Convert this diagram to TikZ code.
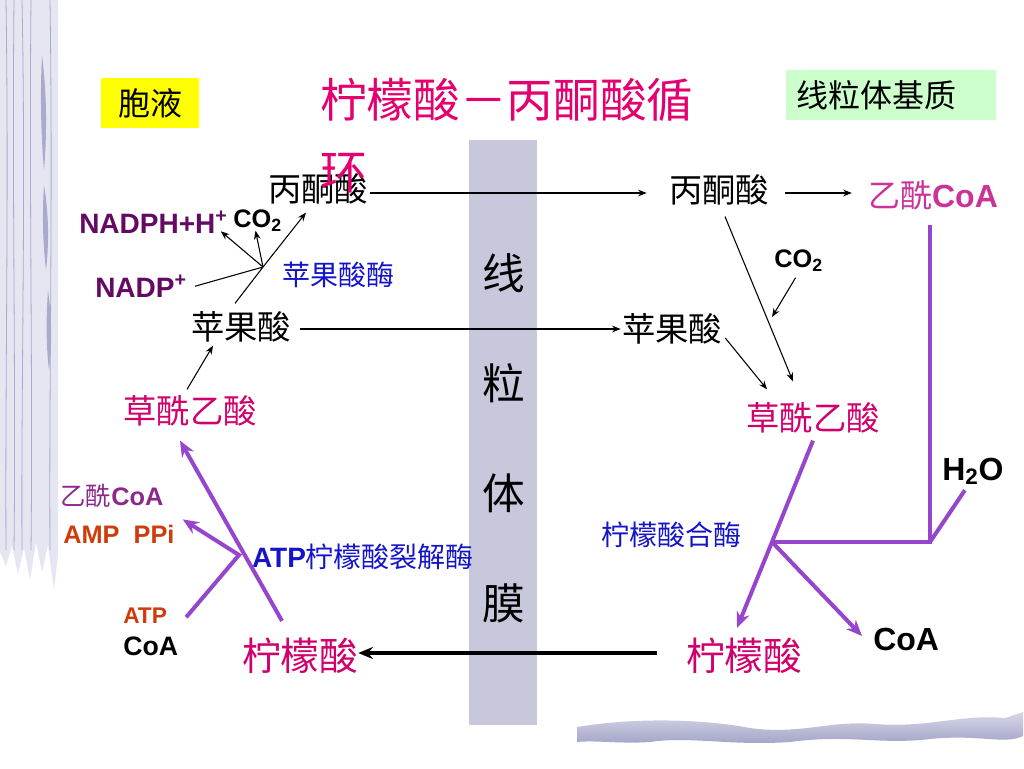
\documentclass[tikz,border=0pt]{standalone}
\usepackage{fontspec}
\setmainfont{Liberation Sans}
\newfontfamily\cjk{Noto Sans CJK SC}
\usetikzlibrary{arrows.meta,calc}
\definecolor{titlepink}{RGB}{228,0,110}
\definecolor{pinkc}{RGB}{208,0,108}
\definecolor{acoa}{RGB}{204,51,153}
\definecolor{acoaL}{RGB}{140,40,140}
\definecolor{purl}{RGB}{150,70,205}
\definecolor{bluet}{RGB}{20,20,200}
\definecolor{nadp}{RGB}{100,10,100}
\definecolor{orng}{RGB}{205,60,10}
\definecolor{memb}{RGB}{200,200,220}
\definecolor{yel}{RGB}{255,255,0}
\definecolor{grn}{RGB}{204,255,204}
\definecolor{strip}{RGB}{230,230,242}
\definecolor{stripd}{RGB}{170,170,205}
\definecolor{bandtop}{RGB}{215,215,232}
\definecolor{bandbot}{RGB}{160,160,198}
\newcommand\myfs[2]{\fontsize{#1pt}{#2pt}\selectfont}
\begin{document}
\begin{tikzpicture}[x=0.75pt,y=-0.75pt,
  cj/.style={inner sep=0pt, font=\cjk\myfs{25}{30}},
  lb/.style={inner sep=0pt, anchor=base west},
  tarrow/.style={draw=black, line width=0.8pt, -{Stealth[length=6.5pt,width=5pt]}},
  purp/.style={draw=purl, line width=3pt, line join=miter},
  parrow/.style={purp, -{Stealth[length=12pt,width=10pt]}},
  karrow/.style={draw=black, line width=2.5pt, -{Stealth[length=11pt,width=9pt]}},
]
\useasboundingbox (0,0) rectangle (1024,768);
\fill[white] (0,0) rectangle (1024,768);
% left decorative strip
\fill[strip] (0,0) -- (58,0) -- (58,555) -- (54,590) -- (48,545) -- (42,572) -- (36,542) -- (30,580) -- (24,548) -- (18,574) -- (12,546) -- (6,566) -- (0,552) -- cycle;
\foreach \xa/\xb/\xc in {6/9/5, 14/12/16, 22/26/21, 31/29/33, 50/53/49}{
  \draw[stripd, line width=0.6pt] (\xa,0) .. controls (\xb,200) and (\xc,380) .. (\xa,550);
}
\fill[stripd] (42,55) .. controls (47,95) and (47,135) .. (44,170) .. controls (41,135) and (40,95) .. (42,55);
\fill[stripd] (44,185) .. controls (49,215) and (49,245) .. (46,270) .. controls (43,245) and (42,215) .. (44,185);
\fill[stripd] (48,290) .. controls (52,320) and (52,345) .. (49,370) .. controls (46,345) and (46,320) .. (48,290);
% bottom decorative band
\shade[top color=bandtop, bottom color=bandbot] (577,727) .. controls (650,715) and (720,722) .. (750,728) .. controls (800,735) and (830,720) .. (875,724) .. controls (930,728) and (960,714) .. (1005,718) -- (1023,712) -- (1023,736) .. controls (1005,745) and (980,734) .. (930,739) .. controls (880,745) and (850,734) .. (790,742) .. controls (730,746) and (690,736) .. (650,742) .. controls (620,744) and (595,740) .. (577,742) -- cycle;
% membrane
\fill[memb] (469,140) rectangle (537,725);
\node[cj, font=\cjk\myfs{32}{82.5}, align=center] (membt) at (504,438) {线\\粒\\体\\膜};
% boxes
\node[cj, fill=yel, minimum width=73.5pt, minimum height=37.5pt, font=\cjk\myfs{24}{28}] (cyto) at (150,103) {胞液};
\node[cj, fill=grn, minimum height=37.5pt, text width=142pt, align=left, inner xsep=8pt, font=\cjk\myfs{24}{28}] (matrix) at (891,95) {线粒体基质};
% metabolites
\node[cj] (pyrL) at (318,189) {丙酮酸};
\node[cj] (pyrR) at (719,190) {丙酮酸};
\node[cj, text=pinkc] (oaaL) at (190,411) {草酰乙酸};
\node[cj, text=pinkc] (oaaR) at (813,418) {草酰乙酸};
\node[cj] (malL) at (241,327) {苹果酸};
\node[cj] (malR) at (672,329) {苹果酸};
\node[cj, text=pinkc, font=\cjk\myfs{29}{34}] (citL) at (300,656) {柠檬酸};
\node[cj, text=pinkc, font=\cjk\myfs{29}{34}] (citR) at (744,656) {柠檬酸};
\node[cj, text=bluet, font=\cjk\myfs{21}{25}] (me) at (338,275) {苹果酸酶};
\node[cj, text=bluet, font=\cjk\myfs{21}{25}] (cs) at (671,535) {柠檬酸合酶};
\node[inner sep=0pt, text=bluet, font=\myfs{21}{25}] (acl) at (363,557) {\textbf{ATP}{\cjk 柠檬酸裂解酶}};
\node[inner sep=0pt, text=acoa, font=\myfs{24}{28}] (acoaR) at (933,195) {{\cjk 乙酰}\textbf{CoA}};
\node[inner sep=0pt, text=acoaL, font=\myfs{19}{23}] (acoaLn) at (112,496) {{\cjk 乙酰}\textbf{CoA}};
% small latin labels
\node[lb, font=\bfseries\myfs{21}{25}, text=nadp] (nadph) at (79,233) {NADPH+H\textsuperscript{+}};
\node[lb, font=\bfseries\myfs{19}{23}] (co2L) at (233,227) {CO\textsubscript{2}};
\node[lb, font=\bfseries\myfs{21}{25}, text=nadp] (nadpp) at (95,297) {NADP\textsuperscript{+}};
\node[lb, font=\bfseries\myfs{19}{23}] (co2R) at (774,267) {CO\textsubscript{2}};
\node[lb, font=\bfseries\myfs{24}{28}] (h2o) at (942,480) {H\textsubscript{2}O};
\node[lb, font=\bfseries\myfs{24}{28}] (coaR) at (873,650) {CoA};
\node[lb, font=\bfseries\myfs{19}{23}, text=orng] (amp) at (63,543) {AMP\ \ PPi};
\node[lb, font=\bfseries\myfs{17}{21}, text=orng] (atpL) at (123,623) {ATP};
\node[lb, font=\bfseries\myfs{20}{24}] (coaL) at (123,655) {CoA};
% junctions
\coordinate (j1) at (263,267);
\coordinate (j2) at (772,542);
\coordinate (j3) at (930,542);
\coordinate (j4) at (239,555);
\coordinate (co2tip) at (772,317);
% thin black connectors
\draw[tarrow] ($(pyrL.east)+(2,4)$) -- ($(pyrR.west)+(-22,3)$);
\draw[tarrow] ($(pyrR.east)+(16,3)$) -- ($(acoaR.west)+(-16,-2)$);
\draw[tarrow] ($(malL.east)+(9,2)$) -- ($(malR.west)+(-1,0)$);
\draw[tarrow] ($(oaaL.north)+(-3,-6)$) -- ($(malL.south)+(-28,3)$);
\draw[tarrow] ($(malL.north)+(-6,-8)$) -- (j1) -- ($(pyrL.south)+(-12,8)$);
\draw[tarrow] (j1) -- ($(nadph.south east)+(-7,-2)$);
\draw[tarrow] (j1) -- ($(co2L.south)+(-2,-1)$);
\draw[draw=black, line width=0.8pt] ($(nadpp.east)+(8,0)$) -- (j1);
\draw[tarrow] ($(pyrR.south)+(6,11)$) -- ($(oaaR.north)+(-20,-21)$);
\draw[tarrow] ($(co2R.south)+(-3,6)$) -- (co2tip);
\draw[tarrow] ($(malR.east)+(3,9)$) -- ($(oaaR.north west)+(21,-13)$);
% purple connectors
\draw[purp] ($(acoaR.south)+(-3,15)$) -- (j3) -- (j2);
\draw[purp] (j3) -- ($(h2o.south)+(-8,5)$);
\draw[parrow] ($(oaaR.south)+(0,7)$) -- (j2) -- ($(citR.north)+(-7,-10)$);
\draw[parrow] (j2) -- ($(coaR.west)+(-11,-3)$);
\draw[parrow] ($(citL.north)+(-18,-17)$) -- ($(oaaL.south)+(-10,14)$);
\draw[parrow] ($(atpL.east)+(19,2)$) -- (j4) -- ($(amp.north east)+(8,-5)$);
% thick black arrow
\draw[karrow] ($(citR.west)+(-29,-3)$) -- ($(citL.east)+(0,-3)$);
% title
\node[inner sep=0pt, font=\cjk\myfs{35}{54}, text=titlepink, anchor=north west, align=left] (title) at (320,78) {柠檬酸－丙酮酸循\\环};
\end{tikzpicture}
\end{document}
